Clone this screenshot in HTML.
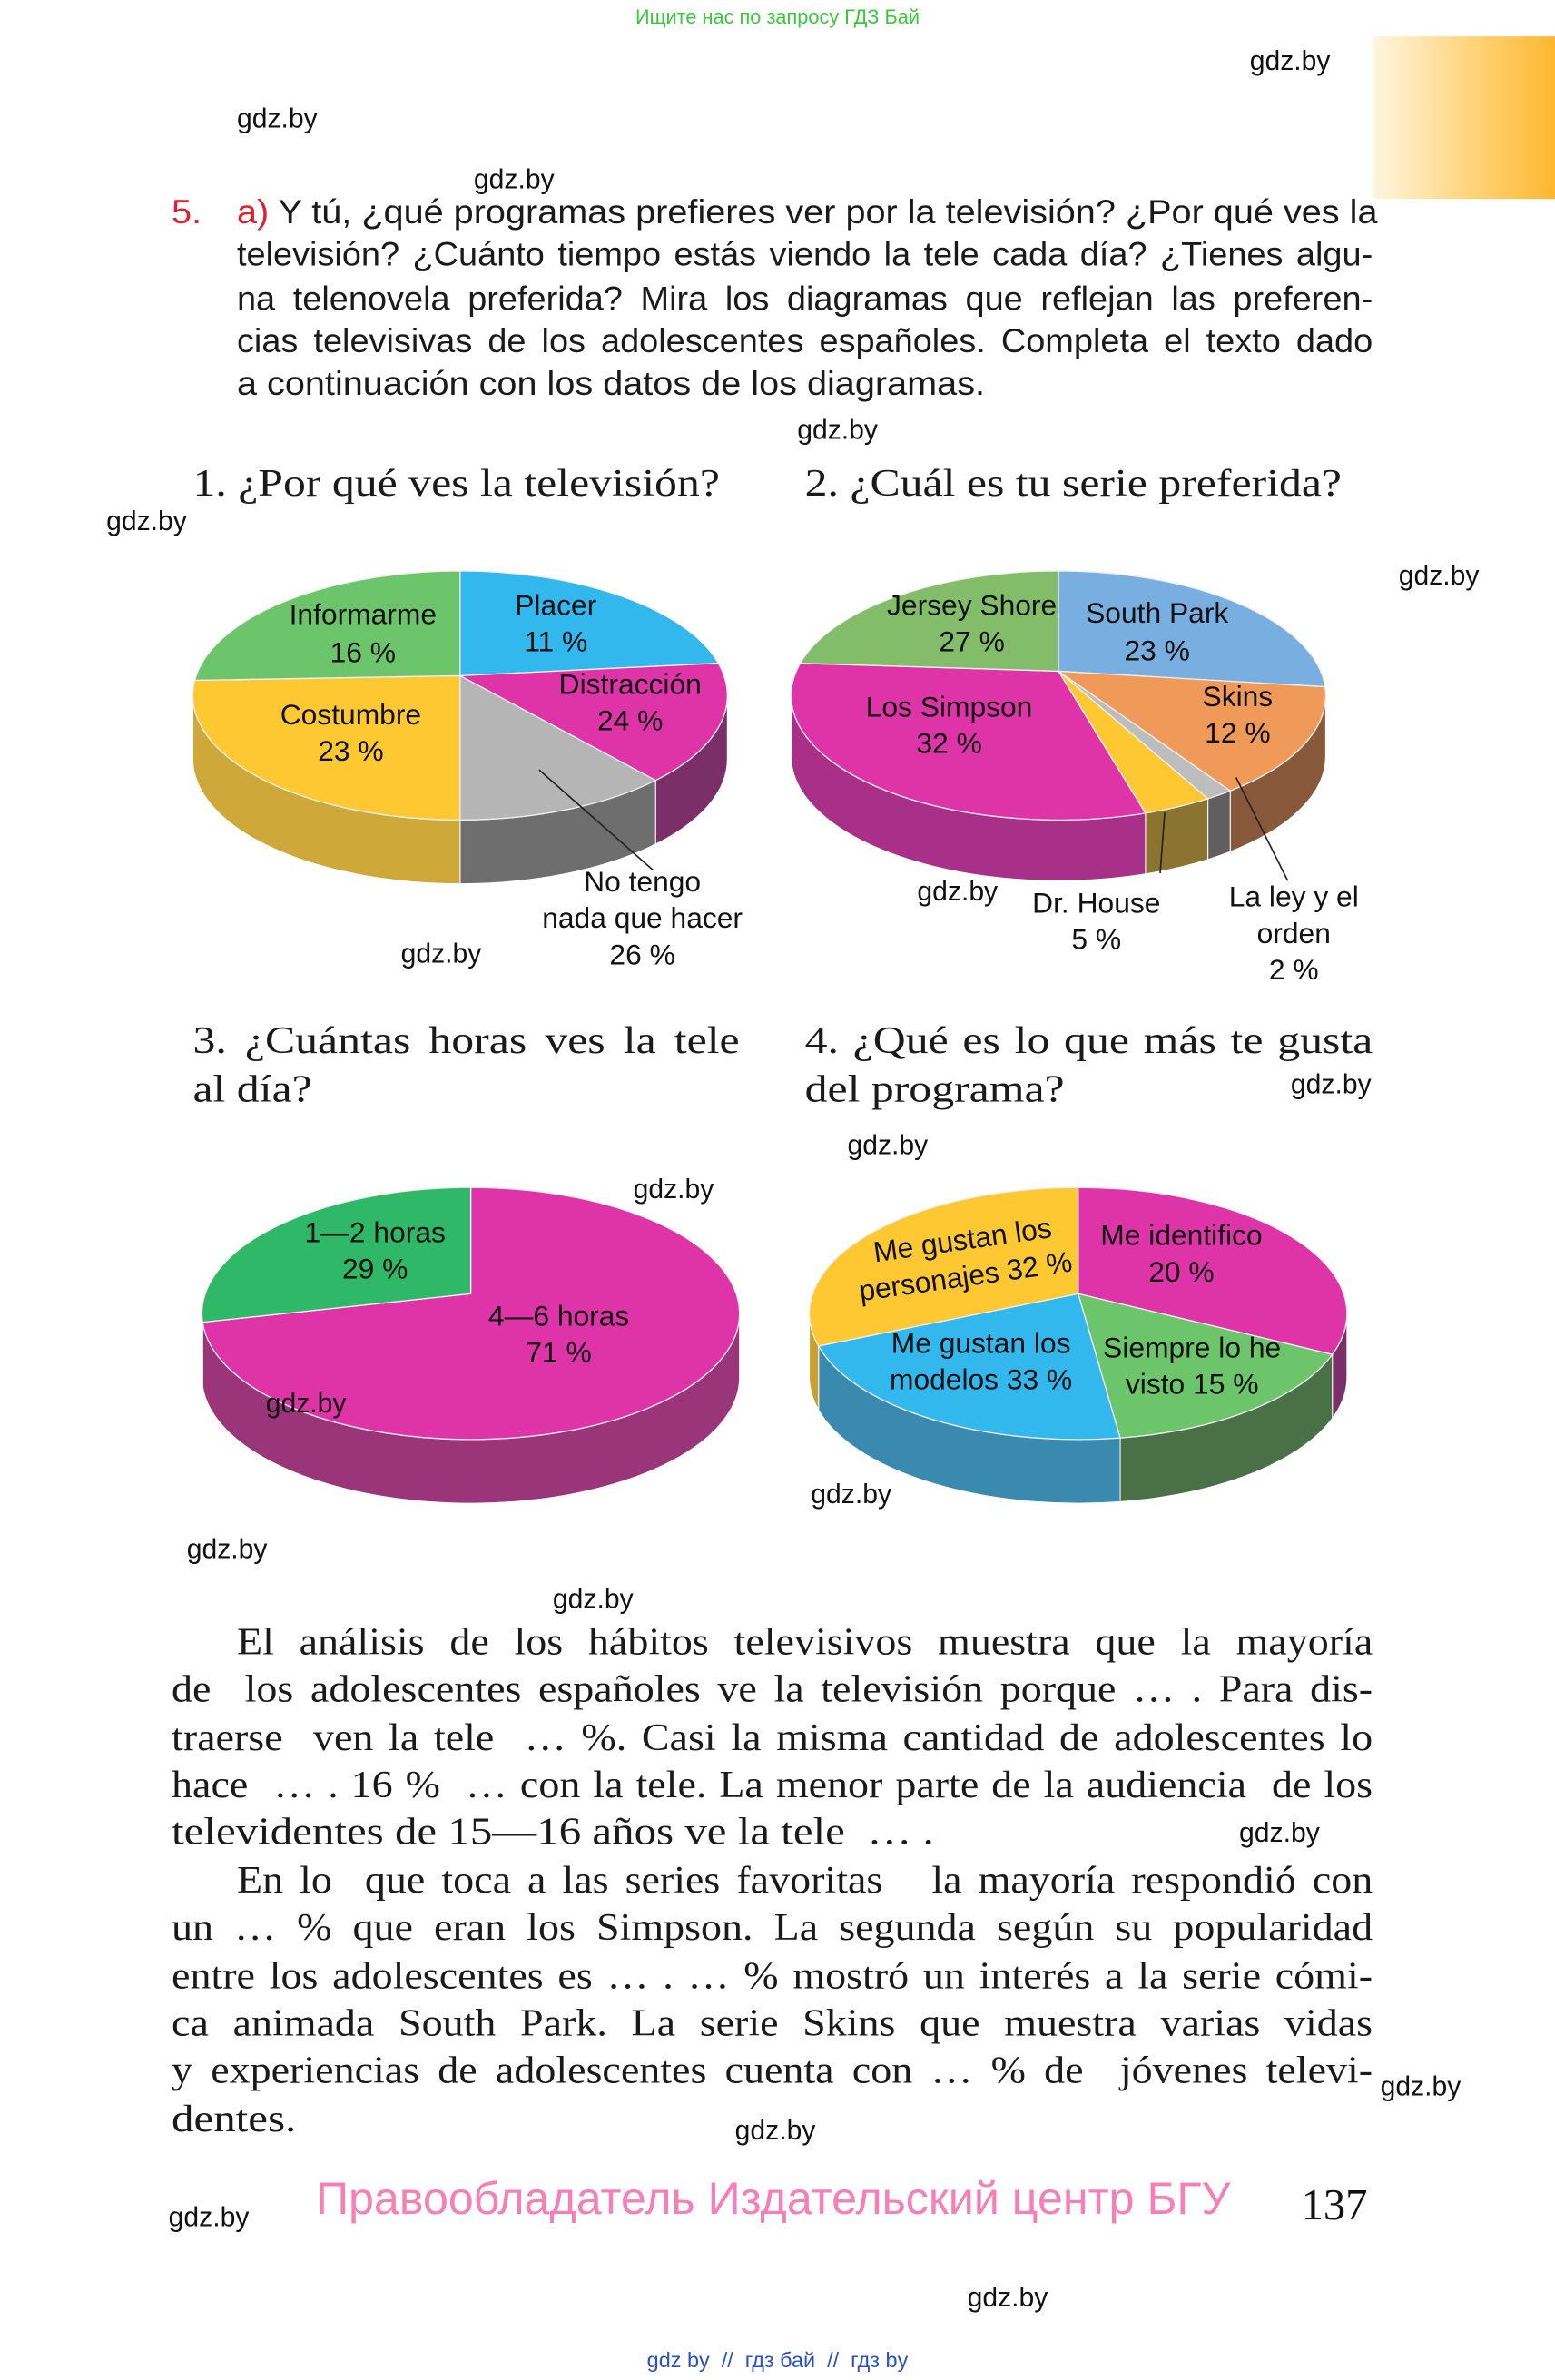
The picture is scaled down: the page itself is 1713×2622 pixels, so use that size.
<!DOCTYPE html>
<html><head><meta charset="utf-8">
<style>
html,body{margin:0;padding:0;background:#fff;}
body{width:1713px;height:2622px;overflow:hidden;position:relative;}
#pg{position:absolute;left:0;top:0;width:1024px;height:1567px;transform:scale(1.67285);transform-origin:0 0;}
.t{position:absolute;white-space:nowrap;line-height:1;}
.w{font-family:"Liberation Sans",sans-serif;font-size:18px;color:#111;transform:translateY(-50%);}
.s{font-family:"Liberation Sans",sans-serif;font-size:22px;color:#1a1a1a;transform-origin:0 50%;transform:translateY(-50%) scaleX(1.077);}
.s.j{transform:translateY(-50%) scaleX(1.03);}
.j{text-align:justify;text-align-last:justify;}
.h{font-family:"Liberation Serif",serif;font-size:25px;color:#1a1a1a;transform-origin:0 50%;transform:translateY(-50%) scaleX(1.19);}
.p{font-family:"Liberation Serif",serif;font-size:25px;color:#1a1a1a;transform-origin:0 50%;transform:translateY(-50%) scaleX(1.17);}
.p.j{transform:translateY(-50%) scaleX(1.1);}
svg text{font-family:"Liberation Sans",sans-serif;font-size:19px;fill:#111;text-anchor:middle;dominant-baseline:middle;}
</style></head><body>
<div id="pg">
<div class="t" style="left:0;width:1024px;text-align:center;top:11px;transform:translateY(-50%);font-family:'Liberation Sans',sans-serif;font-size:13px;color:#3ac83a;">Ищите нас по запросу ГДЗ Бай</div>
<div style="position:absolute;left:904px;top:24px;width:120px;height:107px;background:linear-gradient(90deg,#fff6e0,#ffd070 60%,#ffb630);"></div>

<div class="t s" style="left:113px;top:140px;color:#e02030;">5.</div>
<div class="t s" style="left:156px;top:140px;"><span style="color:#e02030">a)</span> Y tú, ¿qué programas prefieres ver por la televisión? ¿Por qué ves la</div>
<div class="t s j" style="left:156px;width:726.2px;top:168px;">televisión? ¿Cuánto tiempo estás viendo la tele cada día? ¿Tienes algu-</div>
<div class="t s j" style="left:156px;width:726.2px;top:197px;">na telenovela preferida? Mira los diagramas que reflejan las preferen-</div>
<div class="t s j" style="left:156px;width:726.2px;top:225px;">cias televisivas de los adolescentes españoles. Completa el texto dado</div>
<div class="t s" style="left:156px;top:253px;">a continuación con los datos de los diagramas.</div>

<div class="t h" style="left:127px;top:319px;">1. ¿Por qué ves la televisión?</div>
<div class="t h" style="left:530px;top:319px;">2. ¿Cuál es tu serie preferida?</div>
<div class="t h j" style="left:127px;width:302.5px;top:686px;">3. ¿Cuántas horas ves la tele</div>
<div class="t h" style="left:127px;top:718px;">al día?</div>
<div class="t h j" style="left:530px;width:314.3px;top:686px;">4. ¿Qué es lo que más te gusta</div>
<div class="t h" style="left:530px;top:718px;">del programa?</div>

<svg id="sv" width="1024" height="1567" style="position:absolute;left:0;top:0;">
<g id="pies"></g>
<g stroke="#222" stroke-width="1">
<line x1="355" y1="507" x2="430" y2="573"/>
<line x1="767" y1="535" x2="764" y2="575"/>
<line x1="814" y1="512" x2="848" y2="580"/>
</g>
<text x="239" y="406">Informarme</text><text x="239" y="431">16 %</text>
<text x="366" y="400">Placer</text><text x="366" y="424">11 %</text>
<text x="415" y="452">Distracción</text><text x="415" y="476">24 %</text>
<text x="231" y="472">Costumbre</text><text x="231" y="496">23 %</text>
<text x="423" y="582">No tengo</text><text x="423" y="606">nada que hacer</text><text x="423" y="630">26 %</text>
<text x="640" y="400">Jersey Shore</text><text x="640" y="424">27 %</text>
<text x="762" y="405">South Park</text><text x="762" y="430">23 %</text>
<text x="815" y="460">Skins</text><text x="815" y="484">12 %</text>
<text x="625" y="467">Los Simpson</text><text x="625" y="491">32 %</text>
<text x="722" y="596">Dr. House</text><text x="722" y="620">5 %</text>
<text x="852" y="592">La ley y el</text><text x="852" y="616">orden</text><text x="852" y="640">2 %</text>
<text x="247" y="813">1—2 horas</text><text x="247" y="837">29 %</text>
<text x="368" y="868">4—6 horas</text><text x="368" y="892">71 %</text>
<text x="634" y="818" transform="rotate(-8 634 818)">Me gustan los</text>
<text x="636" y="842" transform="rotate(-8 636 842)">personajes 32 %</text>
<text x="778" y="815">Me identifico</text><text x="778" y="839">20 %</text>
<text x="646" y="886">Me gustan los</text><text x="646" y="910">modelos 33 %</text>
<text x="785" y="889">Siempre lo he</text><text x="785" y="913">visto 15 %</text>
</svg>

<div class="t p j" style="left:156px;width:680px;top:1082px;">El análisis de los hábitos televisivos muestra que la mayoría</div>
<div class="t p j" style="left:113px;width:719px;top:1113px;">de&nbsp; los adolescentes españoles ve la televisión porque … . Para dis-</div>
<div class="t p j" style="left:113px;width:719px;top:1145px;">traerse&nbsp; ven la tele&nbsp; … %. Casi la misma cantidad de adolescentes lo</div>
<div class="t p j" style="left:113px;width:719px;top:1176px;">hace&nbsp; … . 16 %&nbsp; … con la tele. La menor parte de la audiencia&nbsp; de los</div>
<div class="t p" style="left:113px;top:1207px;">televidentes de 15—16 años ve la tele&nbsp; … .</div>
<div class="t p j" style="left:156px;width:680px;top:1239px;">En lo&nbsp; que toca a las series favoritas&nbsp;&nbsp; la mayoría respondió con</div>
<div class="t p j" style="left:113px;width:719px;top:1270px;">un … % que eran los Simpson. La segunda según su popularidad</div>
<div class="t p j" style="left:113px;width:719px;top:1302px;">entre los adolescentes es … . … % mostró un interés a la serie cómi-</div>
<div class="t p j" style="left:113px;width:719px;top:1333px;">ca animada South Park. La serie Skins que muestra varias vidas</div>
<div class="t p j" style="left:113px;width:719px;top:1364px;">y experiencias de adolescentes cuenta con … % de&nbsp; jóvenes televi-</div>
<div class="t p" style="left:113px;top:1396px;">dentes.</div>

<div class="t" style="left:208px;top:1449px;transform:translateY(-50%);font-family:'Liberation Sans',sans-serif;font-size:30px;color:#f580b8;">Правообладатель Издательский центр БГУ</div>
<div class="t" style="left:857px;top:1453px;transform:translateY(-50%);font-family:'Liberation Serif',serif;font-size:29px;color:#111;">137</div>
<div class="t" style="left:0;width:1024px;text-align:center;top:1554px;transform:translateY(-50%);font-family:'Liberation Sans',sans-serif;font-size:14px;color:#2a50c8;">gdz by&nbsp; //&nbsp; гдз бай&nbsp; //&nbsp; гдз by</div>

<div class="t w" style="left:823px;top:40px;">gdz.by</div>
<div class="t w" style="left:156px;top:78px;">gdz.by</div>
<div class="t w" style="left:312px;top:118px;">gdz.by</div>
<div class="t w" style="left:525px;top:283px;">gdz.by</div>
<div class="t w" style="left:70px;top:343px;">gdz.by</div>
<div class="t w" style="left:921px;top:379px;">gdz.by</div>
<div class="t w" style="left:264px;top:628px;">gdz.by</div>
<div class="t w" style="left:604px;top:587px;">gdz.by</div>
<div class="t w" style="left:850px;top:714px;">gdz.by</div>
<div class="t w" style="left:558px;top:754px;">gdz.by</div>
<div class="t w" style="left:417px;top:783px;">gdz.by</div>
<div class="t w" style="left:175px;top:924px;">gdz.by</div>
<div class="t w" style="left:534px;top:984px;">gdz.by</div>
<div class="t w" style="left:123px;top:1020px;">gdz.by</div>
<div class="t w" style="left:364px;top:1053px;">gdz.by</div>
<div class="t w" style="left:816px;top:1207px;">gdz.by</div>
<div class="t w" style="left:909px;top:1374px;">gdz.by</div>
<div class="t w" style="left:484px;top:1403px;">gdz.by</div>
<div class="t w" style="left:111px;top:1460px;">gdz.by</div>
<div class="t w" style="left:637px;top:1513px;">gdz.by</div>
</div>
<script>
(function(){
var g=document.getElementById('pies'),out='';
function pie(cx,cy,rx,ry,hx,hy,d,sl){
 function p(t,dy){t=t*Math.PI/180;return (cx+rx*Math.sin(t)).toFixed(2)+' '+(cy-ry*Math.cos(t)+(dy||0)).toFixed(2);}
 sl.forEach(function(s){
  var a=Math.max(s[0],90),b=Math.min(s[1],270);
  if(b>a){out+='<path d="M'+p(a)+' A'+rx+' '+ry+' 0 0 1 '+p(b)+' L'+p(b,d)+' A'+rx+' '+ry+' 0 0 0 '+p(a,d)+' Z" fill="'+s[3]+'" stroke="#fff" stroke-width="0.6"/>';}
 });
 sl.forEach(function(s){
  var large=(s[1]-s[0])>180?1:0;
  out+='<path d="M'+hx+' '+hy+' L'+p(s[0])+' A'+rx+' '+ry+' 0 '+large+' 1 '+p(s[1])+' Z" fill="'+s[2]+'" stroke="#eee" stroke-width="0.8"/>';
 });
}
pie(303,458,176,82,303,445,42,[[0,75,'#33b8ee','#2a8fb8'],[75,133,'#de34a8','#7a2f68'],[133,180,'#b5b5b5','#6e6e6e'],[180,277,'#fdc832','#cfa83a'],[277,360,'#6cc56a','#4a8a48']]);
pie(697,458,176,82,697,442,40,[[0,86,'#79aee0','#4f7ea8'],[86,140,'#ef9a58','#87583a'],[140,146,'#bdbdbd','#5f5f5f'],[146,161,'#fdc832','#8a7430'],[161,285,'#de34a8','#a83088'],[285,360,'#83bd6a','#5a8a48']]);
pie(310,865,177,83,310,852,42,[[0,266,'#de34a8','#9a357a'],[266,360,'#2fb868','#22804a']]);
pie(710,865,177,83,710,852,42,[[0,109,'#de34a8','#7a2f68'],[109,171,'#6cc56a','#4a7048'],[171,255,'#33b8ee','#3a8ab0'],[255,360,'#fdc832','#c8a030']]);
g.innerHTML=out;
})();
</script>
</body></html>
